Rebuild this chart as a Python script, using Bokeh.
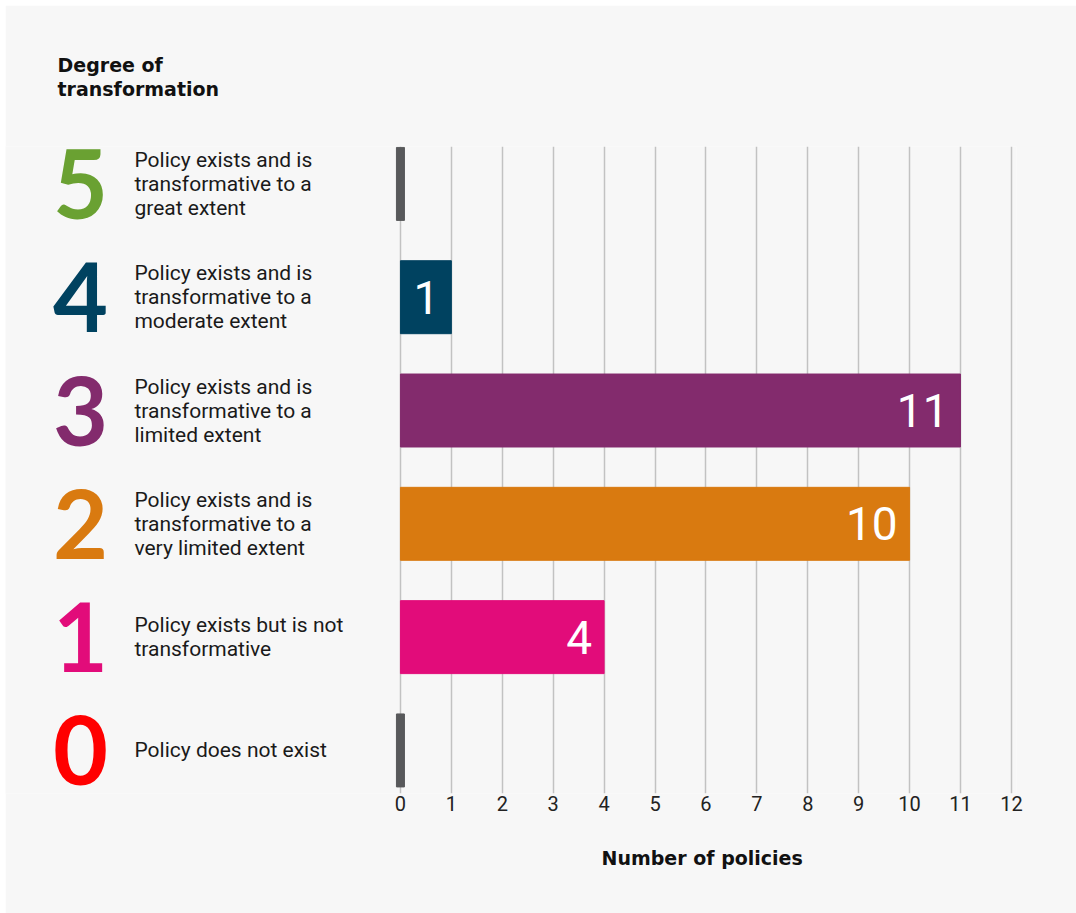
from bokeh.plotting import figure
from bokeh.models import ColumnDataSource, LabelSet, Range1d, FixedTicker, Title
from bokeh.core.properties import value
from bokeh.embed import file_html
from bokeh.resources import INLINE

degrees = [5, 4, 3, 2, 1, 0]
counts = [0, 1, 11, 10, 4, 0]
descriptions = [
    "Policy exists and is\ntransformative to a\ngreat extent",
    "Policy exists and is\ntransformative to a\nmoderate extent",
    "Policy exists and is\ntransformative to a\nlimited extent",
    "Policy exists and is\ntransformative to a\nvery limited extent",
    "Policy exists but is not\ntransformative",
    "Policy does not exist",
]
colors = ["#6aa132", "#004260", "#832b6d", "#d97a10", "#e20c7a", "#ff0000"]
title_text = "Degree of\ntransformation"
x_label = "Number of policies"
x_ticks = list(range(0, 13))

BG = "#f7f7f7"
W, H = 1071, 908

p = figure(width=W, height=H, output_backend="svg", toolbar_location=None,
           x_range=Range1d(-7.757, 12.1), y_range=Range1d(-0.38, 5.33),
           y_axis_location=None, min_border_left=0, min_border_right=60,
           min_border_top=141, min_border_bottom=120)
p.margin = (5, 0, 0, 5)
p.background_fill_color = BG
p.border_fill_color = BG
p.outline_line_color = None

ticker = FixedTicker(ticks=x_ticks)
p.xaxis.ticker = ticker
p.xgrid.ticker = ticker
p.ygrid.visible = False
p.xgrid.grid_line_color = "#c2c2c2"
p.xgrid.grid_line_width = 1.5
p.xaxis.axis_line_color = None
p.xaxis.major_tick_line_color = None
p.xaxis.minor_tick_line_color = None
p.xaxis.major_tick_out = 0
p.xaxis.major_label_standoff = 2
p.xaxis.major_label_text_font = "Roboto"
p.xaxis.major_label_text_font_size = "20px"
p.xaxis.major_label_text_color = "#222222"

# title (top-left) and x-axis title (below, centred under the 0-12 scale)
p.title = Title(text=title_text, align="left", offset=52, standoff=92,
                text_font="DejaVu Sans", text_font_style="bold",
                text_font_size="19px", text_color="#111111", text_line_height=1.1)
p.add_layout(Title(text=x_label, align="left", offset=596, standoff=62,
                   text_font="DejaVu Sans", text_font_style="bold",
                   text_font_size="19px", text_color="#111111"), "below")

nz = [i for i, c in enumerate(counts) if c > 0]
zz = [i for i, c in enumerate(counts) if c == 0]

bars = ColumnDataSource(dict(
    y=[degrees[i] for i in nz],
    right=[counts[i] for i in nz],
    color=[colors[i] for i in nz],
    label=[str(counts[i]) for i in nz],
))
p.hbar(y="y", left=0, right="right", height=0.644, color="color", source=bars)

stubs = ColumnDataSource(dict(y=[degrees[i] for i in zz], x=[counts[i] for i in zz]))
p.rect(x="x", y="y", width=8, width_units="screen", height=0.644,
       color="#58595b", source=stubs)

p.add_layout(LabelSet(x="right", y="y", text="label", source=bars, x_offset=-12,
                      text_align="right", text_baseline="middle", text_color="white",
                      text_font=value("Roboto"), text_font_size="46px"))

rows = ColumnDataSource(dict(
    y=degrees,
    num=[str(d) for d in degrees],
    desc=descriptions,
    color=colors,
))
p.text(x=0, y="y", text="num", source=rows, x_offset=-320, text_align="center",
       text_baseline="middle", text_color="color", text_font=value("Lato"),
       text_font_style="bold", text_font_size="95px")
p.text(x=0, y="y", text="desc", source=rows, x_offset=-266, text_align="left",
       text_baseline="middle", text_color="#1a1a1a", text_font=value("Roboto"),
       text_font_size="21px", text_line_height=1.0)

open("out.html", "w").write(file_html(p, INLINE))
